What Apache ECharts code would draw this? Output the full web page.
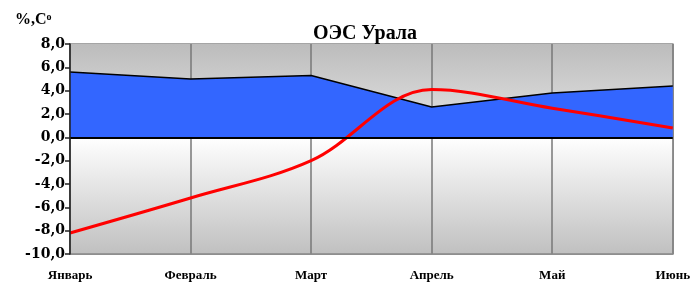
<!DOCTYPE html>
<html>
<head>
<meta charset="utf-8">
<script src="https://cdn.jsdelivr.net/npm/echarts@6/dist/echarts.min.js"></script>
<style>
  html, body { margin: 0; padding: 0; background: #fff; }
  #chart { width: 693px; height: 285px; }
</style>
</head>
<body>
<div id="chart"></div>
<script>
// data
const months = ['Январь', 'Февраль', 'Март', 'Апрель', 'Май', 'Июнь'];
const areaValues = [5.6, 5.0, 5.3, 2.6, 3.8, 4.4];
const lineValues = [-8.2, -5.2, -2.0, 4.1, 2.5, 0.8];
const yMin = -10;
const yMax = 8;
const yStep = 2;

const font = '"Liberation Serif", "Times New Roman", serif';
const wideFont = '"DejaVu Serif", serif';
const chart = echarts.init(document.getElementById('chart'));

const grad = (top, bottom) => new echarts.graphic.LinearGradient(0, 0, 0, 1, [
    { offset: 0, color: top },
    { offset: 1, color: bottom },
]);

chart.setOption({
    animation: false,
    title: {
        text: 'ОЭС Урала',
        left: 360,
        textAlign: 'center',
        top: 19,
        textStyle: { fontFamily: font, fontWeight: 'bold', fontSize: 20, color: '#000' },
    },
    graphic: [{
        type: 'text',
        left: 15,
        top: 12,
        style: {
            text: '{a|%,C}{b|o}',
            rich: {
                a: { fontFamily: font, fontWeight: 'bold', fontSize: 16, fill: '#000' },
                b: { fontFamily: font, fontWeight: 'bold', fontSize: 10, fill: '#000', verticalAlign: 'top', padding: [0, 0, 6, 0] },
            },
        },
    }],
    grid: {
        left: 70,
        right: 20,
        top: 44,
        bottom: 31,
        show: true,
        borderColor: '#888',
        borderWidth: 1.5,
        backgroundColor: 'transparent',
    },
    xAxis: {
        type: 'category',
        data: months,
        boundaryGap: false,
        z: 2,
        axisLine: { onZero: false, lineStyle: { color: '#888', width: 1.5 } },
        axisTick: { show: false },
        axisLabel: {
            margin: 15,
            fontFamily: font,
            fontWeight: 'bold',
            fontSize: 13,
            color: '#000',
        },
        splitLine: { show: true, lineStyle: { color: '#777', width: 1.5 } },
    },
    yAxis: {
        type: 'value',
        min: yMin,
        max: yMax,
        interval: yStep,
        z: 6,
        axisLine: { show: true, lineStyle: { color: '#222', width: 1.5 } },
        axisTick: { show: true, length: 5, lineStyle: { color: '#222', width: 1.5 } },
        splitLine: { show: false },
        axisLabel: {
            margin: 5,
            fontFamily: wideFont,
            fontWeight: 'bold',
            fontSize: 14,
            color: '#000',
            formatter: v => v.toFixed(1).replace('.', ','),
        },
    },
    series: [
        {
            // plot background bands
            type: 'line',
            data: [],
            z: 0,
            silent: true,
            markArea: {
                silent: true,
                z: 0,
                data: [
                    [{ yAxis: yMax, itemStyle: { color: grad('#bcbcbc', '#e6e6e6') } }, { yAxis: 0 }],
                    [{ yAxis: 0, itemStyle: { color: grad('#ffffff', '#c0c0c0') } }, { yAxis: yMin }],
                ],
            },
        },
        {
            type: 'line',
            data: areaValues,
            z: 3,
            symbol: 'none',
            lineStyle: { color: '#000', width: 1.5 },
            areaStyle: { color: '#3366ff', opacity: 1 },
            markLine: {
                silent: true,
                symbol: 'none',
                label: { show: false },
                lineStyle: { color: '#000', width: 2, type: 'solid' },
                data: [{ yAxis: 0 }],
            },
        },
        {
            type: 'line',
            data: lineValues,
            z: 4,
            smooth: 0.35,
            symbol: 'none',
            lineStyle: { color: '#ff0000', width: 3 },
        },
    ],
});
</script>
</body>
</html>
